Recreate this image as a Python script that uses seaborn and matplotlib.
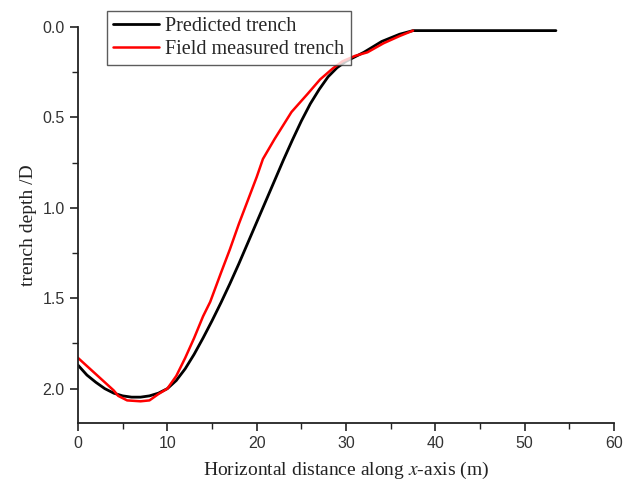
import matplotlib
matplotlib.use("Agg")
import matplotlib.pyplot as plt
import seaborn as sns
import pandas as pd
from matplotlib.ticker import MultipleLocator

# Data
pred_x = [0, 1, 2, 3, 4, 5, 6, 7, 8, 9, 10, 11, 12, 13, 14, 15, 16, 17, 18, 19,
          20, 21, 22, 23, 24, 25, 26, 27, 28, 29, 30, 31, 32, 33, 34, 35, 36, 37.5, 53.5]
pred_y = [1.87, 1.925, 1.965, 2.0, 2.025, 2.04, 2.047, 2.047, 2.04, 2.025, 2.0, 1.955,
          1.89, 1.81, 1.72, 1.625, 1.525, 1.42, 1.31, 1.195, 1.08, 0.965, 0.85, 0.735,
          0.625, 0.52, 0.425, 0.345, 0.275, 0.225, 0.19, 0.165, 0.14, 0.11, 0.08, 0.06,
          0.04, 0.02, 0.02]

field_x = [0, 1, 2, 3, 4, 4.5, 5.5, 7, 8, 9, 10, 11, 12, 13, 14, 14.8, 16, 17, 18, 19,
           20, 20.7, 22, 23.9, 25.7, 27.1, 28.5, 29.6, 31, 32.4, 34.2, 36, 37.5]
field_y = [1.83, 1.875, 1.92, 1.965, 2.01, 2.04, 2.065, 2.07, 2.065, 2.03, 2.0, 1.93,
           1.83, 1.72, 1.6, 1.52, 1.36, 1.23, 1.09, 0.96, 0.83, 0.73, 0.62, 0.47,
           0.37, 0.29, 0.23, 0.19, 0.16, 0.14, 0.09, 0.05, 0.02]

x_ticks = [0, 10, 20, 30, 40, 50, 60]
y_ticks = [0.0, 0.5, 1.0, 1.5, 2.0]

sns.set_theme(style="white")
plt.rcParams["mathtext.fontset"] = "stix"

fig = plt.figure(figsize=(6.35, 4.86), dpi=100)
ax = fig.add_axes([78 / 635, 1 - 423 / 486, (614 - 78) / 635, (423 - 27) / 486])

df_pred = pd.DataFrame({"x": pred_x, "y": pred_y})
df_field = pd.DataFrame({"x": field_x, "y": field_y})

sns.lineplot(data=df_pred, x="x", y="y", ax=ax, color="black", lw=2,
             sort=False, estimator=None, label="Predicted trench")
sns.lineplot(data=df_field, x="x", y="y", ax=ax, color="#ff0000", lw=1.8,
             sort=False, estimator=None, label="Field measured trench")

ax.set_xlim(0, 60)
ax.set_ylim(2.19, 0.0)
ax.set_xticks(x_ticks)
ax.set_yticks(y_ticks)
ax.set_xticklabels([str(t) for t in x_ticks])
ax.set_yticklabels([f"{t:.1f}" for t in y_ticks])
ax.xaxis.set_minor_locator(MultipleLocator(5))
ax.yaxis.set_minor_locator(MultipleLocator(0.25))

for s in ["top", "right"]:
    ax.spines[s].set_visible(False)
for s in ["left", "bottom"]:
    ax.spines[s].set_color("#222222")
    ax.spines[s].set_linewidth(1.3)

ax.tick_params(which="major", direction="out", length=6, width=1.2,
               colors="#222222", labelsize=11.5, left=True, bottom=True)
ax.tick_params(which="minor", direction="out", length=4, width=1.0,
               colors="#222222", left=True, bottom=True)
for lab in ax.get_xticklabels() + ax.get_yticklabels():
    lab.set_fontfamily("Liberation Sans")
    lab.set_color("#333333")

ax.set_xlabel("Horizontal distance along $x$-axis (m)", fontfamily="Liberation Serif",
              fontsize=14, color="#222222", labelpad=6)
ax.set_ylabel("trench depth /D", fontfamily="Liberation Serif", fontsize=14,
              color="#222222", labelpad=4)

leg = ax.legend(loc="upper left", bbox_to_anchor=(107 / 635, 1 - 11 / 486),
                bbox_transform=fig.transFigure, frameon=True, fancybox=False,
                prop={"family": "Liberation Serif", "size": 14.5},
                handlelength=2.3, handletextpad=0.3, labelspacing=0.2,
                borderpad=0.3, borderaxespad=0)
leg.get_frame().set_edgecolor("#333333")
leg.get_frame().set_linewidth(1.0)

fig.savefig("out.png", dpi=100, facecolor="white")
